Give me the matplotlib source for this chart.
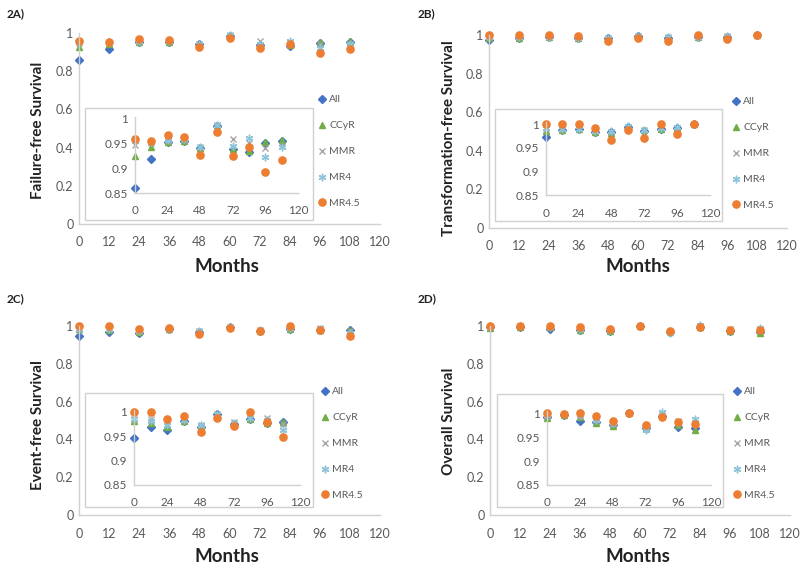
import matplotlib
matplotlib.use('Agg')
import matplotlib.pyplot as plt
from matplotlib.patches import Rectangle

plt.rcParams['font.family'] = ['Lato', 'DejaVu Sans']

months = [0, 12, 24, 36, 48, 60, 72, 84, 96, 108]
series_names = ['All', 'CCyR', 'MMR', 'MR4', 'MR4.5']
xticks_main = [0, 12, 24, 36, 48, 60, 72, 84, 96, 108, 120]
xticks_inset = [0, 24, 48, 72, 96, 120]
yticks_main = [0, 0.2, 0.4, 0.6, 0.8, 1]
ytick_labels_main = ['0', '0.2', '0.4', '0.6', '0.8', '1']
yticks_inset = [0.85, 0.9, 0.95, 1]
ytick_labels_inset = ['0.85', '0.9', '0.95', '1']

# 2A) Failure-free survival
ffs_all = [0.861, 0.918, 0.953, 0.955, 0.940, 0.985, 0.939, 0.933, 0.950, 0.955]
ffs_ccyr = [0.925, 0.942, 0.953, 0.955, 0.940, 0.987, 0.939, 0.935, 0.952, 0.957]
ffs_mmr = [0.947, 0.950, 0.955, 0.957, 0.942, 0.987, 0.958, 0.950, 0.940, 0.945]
ffs_mr4 = [0.955, 0.953, 0.957, 0.958, 0.943, 0.987, 0.945, 0.960, 0.923, 0.943]
ffs_mr45 = [0.959, 0.955, 0.967, 0.962, 0.926, 0.972, 0.924, 0.943, 0.893, 0.917]

# 2B) Transformation-free survival
tfs_all = [0.973, 0.987, 0.989, 0.984, 0.983, 0.995, 0.985, 0.990, 0.992, 1.0]
tfs_ccyr = [0.986, 0.987, 0.989, 0.984, 0.982, 0.995, 0.987, 0.990, 0.992, 1.0]
tfs_mmr = [0.990, 0.990, 0.990, 0.985, 0.984, 0.995, 0.988, 0.992, 0.993, 1.0]
tfs_mr4 = [0.992, 0.990, 0.991, 0.986, 0.985, 0.996, 0.988, 0.992, 0.994, 1.0]
tfs_mr45 = [1.0, 1.0, 1.0, 0.993, 0.967, 0.987, 0.970, 1.0, 0.980, 1.0]

# 2C) Event-free survival
efs_all = [0.946, 0.970, 0.962, 0.982, 0.970, 0.996, 0.975, 0.986, 0.977, 0.980]
efs_ccyr = [0.982, 0.977, 0.970, 0.982, 0.972, 0.996, 0.976, 0.986, 0.977, 0.980]
efs_mmr = [0.985, 0.985, 0.975, 0.984, 0.974, 0.996, 0.980, 0.988, 0.988, 0.975]
efs_mr4 = [0.985, 0.982, 0.974, 0.984, 0.973, 0.996, 0.978, 0.988, 0.984, 0.963]
efs_mr45 = [1.0, 1.0, 0.985, 0.992, 0.958, 0.988, 0.971, 1.0, 0.979, 0.949]

# 2D) Overall survival
os_all = [0.993, 0.997, 0.984, 0.981, 0.976, 1.0, 0.970, 0.995, 0.972, 0.970]
os_ccyr = [0.991, 0.997, 0.993, 0.979, 0.974, 1.0, 0.969, 0.995, 0.975, 0.965]
os_mmr = [0.995, 0.998, 0.995, 0.985, 0.978, 1.0, 0.968, 0.998, 0.984, 0.980]
os_mr4 = [0.996, 0.998, 0.996, 0.986, 0.980, 1.0, 0.965, 1.003, 0.980, 0.988]
os_mr45 = [1.0, 0.999, 1.0, 0.995, 0.984, 1.0, 0.976, 0.993, 0.981, 0.977]

panel_labels = ['2A)', '2B)', '2C)', '2D)']
ylabels = ['Failure-free Survival', 'Transformation-free Survival',
           'Event-free Survival', 'Overall Survival']
panel_data = [
    [ffs_all, ffs_ccyr, ffs_mmr, ffs_mr4, ffs_mr45],
    [tfs_all, tfs_ccyr, tfs_mmr, tfs_mr4, tfs_mr45],
    [efs_all, efs_ccyr, efs_mmr, efs_mr4, efs_mr45],
    [os_all, os_ccyr, os_mmr, os_mr4, os_mr45],
]

styles = [
    dict(marker='D', color='#4472C4', ms=3.6),
    dict(marker='^', color='#70AD47', ms=4.8),
    dict(marker='x', color='#A5A5A5', ms=5.0, mew=1.0),
    dict(marker=(6, 2, 0), color='#8EC4DA', ms=5.5, mew=1.0),
    dict(marker='o', color='#ED7D31', ms=5.2),
]

W, H = 800, 571
fig = plt.figure(figsize=(8, 5.71), dpi=100)
fig.patch.set_facecolor('white')


def rect(x0, x1, ytop, ybot):
    return [x0 / W, (H - ybot) / H, (x1 - x0) / W, (ybot - ytop) / H]


# pixel layouts (main axes, inset axes, inset frame, legend, labels)
layouts = [
    dict(main=(79, 380, 33, 224), inset=(135, 298, 118.5, 193), frame=(85, 313, 108, 220),
         leg=(318, 95), plabel=(7, 14), ylab=(38, 130), xlab=(227, 267)),
    dict(main=(489, 787, 35, 228), inset=(545.7, 710, 124.3, 195), frame=(495, 722, 109, 221),
         leg=(732, 97), plabel=(418, 14), ylab=(449, 138), xlab=(638, 267)),
    dict(main=(79, 380, 326, 515), inset=(134.3, 300, 412, 485), frame=(85, 313, 393, 507),
         leg=(321, 387), plabel=(7, 299), ylab=(38, 425), xlab=(227, 557)),
    dict(main=(490, 790, 326, 515), inset=(547.3, 711, 413.3, 485), frame=(497, 723, 394, 507),
         leg=(733, 387), plabel=(418, 299), ylab=(449, 421), xlab=(638, 557)),
]

axis_gray = '#D0D0D0'
text_gray = '#595959'

for pl, ylab, data, lay in zip(panel_labels, ylabels, panel_data, layouts):
    ax = fig.add_axes(rect(*lay['main']))
    ax.set_facecolor('none')
    ax.set_xlim(0, 120)
    ax.set_ylim(0, 1)
    for s in ['top', 'right']:
        ax.spines[s].set_visible(False)
    for s in ['left', 'bottom']:
        ax.spines[s].set_color(axis_gray)
        ax.spines[s].set_linewidth(1.0)
    ax.set_xticks(xticks_main)
    ax.set_xticklabels([str(t) for t in xticks_main])
    ax.set_yticks(yticks_main)
    ax.set_yticklabels(ytick_labels_main)
    ax.tick_params(length=0, labelsize=9, labelcolor=text_gray)
    ax.tick_params(axis='x', pad=9)
    ax.tick_params(axis='y', pad=4)
    handles = []
    for name, vals, st in zip(series_names, data, styles):
        h, = ax.plot(months, vals, linestyle='none', clip_on=False, label=name,
                     mec=st['color'], mfc=st['color'], **{k: v for k, v in st.items() if k != 'color'})
        handles.append(h)

    # inset frame
    fx0, fx1, fy0, fy1 = lay['frame']
    fig.patches.append(Rectangle((fx0 / W, (H - fy1) / H), (fx1 - fx0) / W, (fy1 - fy0) / H,
                                 transform=fig.transFigure, facecolor='white',
                                 edgecolor=axis_gray, linewidth=1.0, zorder=1))

    axi = fig.add_axes(rect(*lay['inset']))
    axi.set_zorder(2)
    axi.set_facecolor('none')
    axi.set_xlim(0, 120)
    axi.set_ylim(0.85, 1.0)
    for s in ['top', 'right']:
        axi.spines[s].set_visible(False)
    for s in ['left', 'bottom']:
        axi.spines[s].set_color(axis_gray)
        axi.spines[s].set_linewidth(1.0)
    axi.spines['left'].set_bounds(0.85, 1.004)
    axi.set_xticks(xticks_inset)
    axi.set_xticklabels([str(t) for t in xticks_inset])
    axi.set_yticks(yticks_inset)
    axi.set_yticklabels(ytick_labels_inset)
    axi.tick_params(length=0, labelsize=8.5, labelcolor=text_gray)
    axi.tick_params(axis='x', pad=9)
    axi.tick_params(axis='y', pad=5)
    for name, vals, st in zip(series_names, data, styles):
        axi.plot(months, vals, linestyle='none', clip_on=False,
                 mec=st['color'], mfc=st['color'], **{k: v for k, v in st.items() if k != 'color'})

    lx, ly = lay['leg']
    leg = fig.legend(handles=handles, loc='upper left',
                     bbox_to_anchor=(lx / W, 1 - ly / H), bbox_transform=fig.transFigure,
                     frameon=False, fontsize=7.5, labelspacing=1.6, handlelength=0.8,
                     handletextpad=0.3, borderpad=0, borderaxespad=0)
    for t in leg.get_texts():
        t.set_color(text_gray)

    px, py = lay['plabel']
    fig.text(px / W, 1 - py / H, pl, fontsize=8.5, fontweight='bold', ha='left', va='center',
             color='#222222')
    yx, yy = lay['ylab']
    fig.text(yx / W, 1 - yy / H, ylab, fontsize=11, fontweight='bold', rotation=90,
             ha='center', va='center', color='#222222')
    xx, xy = lay['xlab']
    fig.text(xx / W, 1 - xy / H, 'Months', fontsize=13.5, fontweight='bold', ha='center',
             va='center', color='#222222')

fig.savefig('out.png', dpi=100)
